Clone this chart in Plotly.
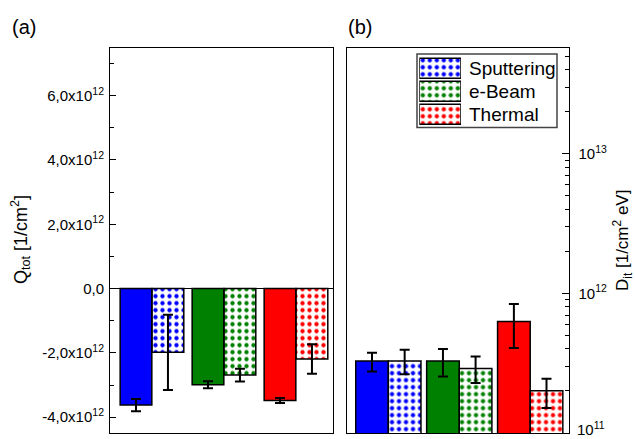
import plotly.graph_objects as go

W, H = 635, 439
def xd(px):
    return px / W
def yd(py):
    return 1 - py / H

FONT = "Liberation Sans, Arial, sans-serif"

# ---------------- data ----------------
methods = ["Sputtering", "e-Beam", "Thermal"]
colors = ["#0000FF", "#008000", "#FF0000"]

# panel (a): Q_tot in units of 1e12 1/cm^2
q_scale = 1e12
q_solid = [-3.62, -2.99, -3.48]
q_solid_err = [0.19, 0.11, 0.08]
q_pattern = [-1.98, -2.69, -2.19]
q_pattern_err = [1.17, 0.20, 0.46]
q_tickvals = [-4, -2, 0, 2, 4, 6]
q_ticktext = ["-4,0x10<sup>12</sup>", "-2,0x10<sup>12</sup>", "0,0",
              "2,0x10<sup>12</sup>", "4,0x10<sup>12</sup>", "6,0x10<sup>12</sup>"]
q_minor = [-3, -1, 1, 3, 5, 7]

# panel (b): D_it in 1/cm^2 eV
d_solid = [3.28e11, 3.28e11, 6.3e11]
d_solid_hi = [3.75e11, 4.0e11, 8.4e11]
d_solid_lo = [2.76e11, 2.54e11, 4.07e11]
d_pattern = [3.28e11, 2.90e11, 2.01e11]
d_pattern_hi = [3.95e11, 3.53e11, 2.45e11]
d_pattern_lo = [2.63e11, 2.28e11, 1.51e11]
d_tickvals = [1e11, 1e12, 1e13]
d_ticktext = ["10<sup>11</sup>", "10<sup>12</sup>", "10<sup>13</sup>"]
d_minor = [k * 10 ** n for n in (11, 12, 13) for k in range(2, 10) if k * 10 ** n < 5.8e13]

idx = list(range(len(methods)))

fig = go.Figure()

def pattern(c):
    return dict(shape=".", fgcolor=c, bgcolor="white", size=7, solidity=0.3, fillmode="replace")

# ---- panel (a)
off_a, w_a = 0.222, 0.44
for i, m in enumerate(methods):
    fig.add_trace(go.Bar(
        x=[idx[i] - off_a], y=[q_solid[i] * q_scale], width=[w_a],
        marker=dict(color=colors[i], line=dict(color="black", width=1.5)),
        error_y=dict(type="data", array=[q_solid_err[i] * q_scale], color="black", thickness=2, width=5),
        xaxis="x", yaxis="y", showlegend=False))
    fig.add_trace(go.Bar(
        x=[idx[i] + off_a], y=[q_pattern[i] * q_scale], width=[w_a],
        marker=dict(color="white", pattern=pattern(colors[i]), line=dict(color="black", width=1.5)),
        error_y=dict(type="data", array=[q_pattern_err[i] * q_scale], color="black", thickness=2, width=5),
        xaxis="x", yaxis="y", showlegend=False))

# ---- panel (b)
off_b, w_b = 0.23, 0.46
for i, m in enumerate(methods):
    fig.add_trace(go.Bar(
        x=[idx[i] - off_b], y=[d_solid[i]], width=[w_b],
        marker=dict(color=colors[i], line=dict(color="black", width=1.5)),
        error_y=dict(type="data", array=[d_solid_hi[i] - d_solid[i]],
                     arrayminus=[d_solid[i] - d_solid_lo[i]], color="black", thickness=2, width=5),
        xaxis="x2", yaxis="y2", showlegend=False))
    fig.add_trace(go.Bar(
        x=[idx[i] + off_b], y=[d_pattern[i]], width=[w_b],
        marker=dict(color="white", pattern=pattern(colors[i]), line=dict(color="black", width=1.5)),
        error_y=dict(type="data", array=[d_pattern_hi[i] - d_pattern[i]],
                     arrayminus=[d_pattern[i] - d_pattern_lo[i]], color="black", thickness=2, width=5),
        xaxis="x2", yaxis="y2", showlegend=False))

# ---- legend drawn as a tiny subplot with patterned swatches
for i, m in enumerate(methods):
    fig.add_trace(go.Bar(
        y=[i], x=[1], orientation="h", width=[0.87],
        marker=dict(color="white", pattern=pattern(colors[i]), line=dict(color="black", width=1.5)),
        xaxis="x3", yaxis="y3", showlegend=False, hoverinfo="skip"))

top, bot = 47.7, 433
axis_common = dict(showgrid=False, zeroline=False, showline=True, mirror=True,
                   linecolor="black", linewidth=1, automargin=False)

fig.update_layout(
    width=W, height=H, margin=dict(l=0, r=0, t=0, b=0),
    paper_bgcolor="white", plot_bgcolor="white",
    barmode="overlay", showlegend=False,
    font=dict(family=FONT, color="black", size=15),
    xaxis=dict(domain=[xd(110), xd(332.7)], range=[-0.583, 2.51], showticklabels=False,
               ticks="", anchor="y", **axis_common),
    yaxis=dict(domain=[yd(bot), yd(top)], range=[-4.49e12, 7.49e12], anchor="x",
               tickmode="array", tickvals=[v * q_scale for v in q_tickvals], ticktext=q_ticktext,
               ticks="inside", ticklen=6, tickcolor="black", ticklabelstandoff=2,
               minor=dict(tickmode="array", tickvals=[v * q_scale for v in q_minor],
                          ticks="inside", ticklen=4, tickcolor="black"),
               tickfont=dict(size=15),
               **{**axis_common, "zeroline": True}, zerolinecolor="black", zerolinewidth=1),
    xaxis2=dict(domain=[xd(346.5), xd(568.5)], range=[-0.59, 2.54], showticklabels=False,
                ticks="", anchor="y2", **axis_common),
    yaxis2=dict(domain=[yd(bot), yd(top)], type="log", range=[11, 13.76], anchor="x2", side="right",
                tickmode="array", tickvals=d_tickvals, ticktext=d_ticktext,
                ticks="inside", ticklen=7, tickcolor="black", ticklabelstandoff=6,
                minor=dict(tickmode="array", tickvals=d_minor, ticks="inside", ticklen=4, tickcolor="black"),
                tickfont=dict(size=15), **axis_common),
    xaxis3=dict(domain=[xd(419.3), xd(461)], range=[0, 1], visible=False, fixedrange=True, anchor="y3"),
    yaxis3=dict(domain=[yd(125.8), yd(56.8)], range=[2.5, -0.5], visible=False, fixedrange=True, anchor="x3"),
)

# legend frame and texts
fig.add_shape(type="rect", xref="paper", yref="paper",
              x0=xd(417), x1=xd(557), y0=yd(127.5), y1=yd(54),
              line=dict(color="#444444", width=1.5), fillcolor="rgba(0,0,0,0)", layer="below")
legend_rows_px = [68.3, 91.3, 114.3]
for i, m in enumerate(methods):
    fig.add_annotation(x=xd(467), y=yd(legend_rows_px[i]), xref="paper", yref="paper", text=m,
                       showarrow=False, xanchor="left", yanchor="middle", font=dict(size=19))

# bottom decade label of the log axis (sits on the axis edge)
fig.add_annotation(x=xd(575), y=yd(428), xref="paper", yref="paper", text=d_ticktext[0],
                   showarrow=False, xanchor="left", yanchor="middle", font=dict(size=15))

# axis titles and panel labels
fig.add_annotation(x=xd(20), y=yd(240), xref="paper", yref="paper", text="Q<sub>tot</sub> [1/cm<sup>2</sup>]",
                   textangle=-90, showarrow=False, font=dict(size=18), xanchor="center", yanchor="middle")
fig.add_annotation(x=xd(622), y=yd(241), xref="paper", yref="paper", text="D<sub>it</sub> [1/cm<sup>2</sup> eV]",
                   textangle=-90, showarrow=False, font=dict(size=17), xanchor="center", yanchor="middle")
fig.add_annotation(x=xd(10), y=yd(27), xref="paper", yref="paper", text="(a)", showarrow=False,
                   font=dict(size=20), xanchor="left", yanchor="middle")
fig.add_annotation(x=xd(346), y=yd(27), xref="paper", yref="paper", text="(b)", showarrow=False,
                   font=dict(size=20), xanchor="left", yanchor="middle")

fig.write_html("out.html")
